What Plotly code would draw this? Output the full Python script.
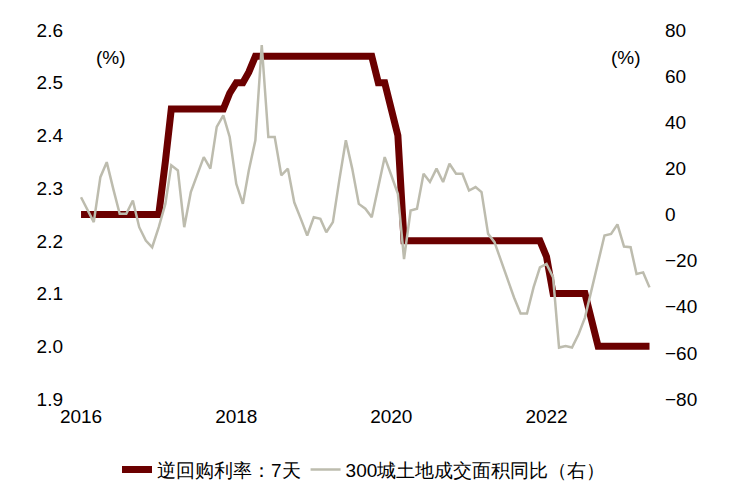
import pandas as pd
import plotly.graph_objects as go

months = pd.date_range("2016-01-01", periods=89, freq="MS")

# 逆回购利率：7天
repo_7d = ([2.25] * 13 + [2.35] + [2.45] * 9 + [2.48, 2.50, 2.50, 2.52] + [2.55] * 19
           + [2.50, 2.50, 2.45, 2.40] + [2.20] * 22 + [2.17, 2.10] + [2.10] * 5
           + [2.05] + [2.00] * 9)

# 300城土地成交面积同比（右）
land_yoy = [7.5, 2, -3.3, 16.2, 22.7, 11, 0.3, 0.3, 6.1, -5.5, -11.3, -14.2,
            -5.5, 4.6, 21.3, 19.1, -5.5, 9.7, 17, 24.9, 19.9, 38, 43, 33.6,
            13.3, 4.6, 19.1, 32.2, 73.5, 33.6, 33.6, 17, 19.9, 5.3, -1.9, -9.1,
            -1.2, -1.9, -7.7, -3.3, 14.8, 32.2, 19.9, 4.6, 2.5, -1.2, 12, 24.9,
            17, 9, -19.3, 1.7, 2.5, 17.7, 14.1, 19.9, 14.1, 22, 17.7, 17.7,
            10.4, 11.9, 9.7, -8.4, -12, -20, -28, -36, -42.9, -42.9, -31.6, -22.9,
            -21.4, -27.3, -57.7, -57, -57.7, -51.9, -44.7, -33, -20, -9.1, -8.4, -4.3,
            -13.9, -14.2, -25.8, -25.1, -31.6]

font = dict(family="Arial, Liberation Sans", size=19, color="black")

fig = go.Figure()
fig.add_trace(go.Scatter(x=months[:len(repo_7d)], y=repo_7d, name="逆回购利率：7天",
                         mode="lines", line=dict(color="#6B0000", width=7)))
fig.add_trace(go.Scatter(x=months[:len(land_yoy)], y=land_yoy, name="300城土地成交面积同比（右）",
                         mode="lines", line=dict(color="#BDBCAE", width=2.5), yaxis="y2"))

fig.update_layout(
    width=730, height=495, plot_bgcolor="white", paper_bgcolor="white",
    margin=dict(l=62, r=80, t=22, b=104),
    font=font,
    xaxis=dict(range=["2015-11-10", "2023-06-10"], tickvals=["2016-01-01", "2018-01-01", "2020-01-01", "2022-01-01"],
               ticktext=["2016", "2018", "2020", "2022"], showgrid=False, showline=False, zeroline=False,
               ticklabelstandoff=4),
    yaxis=dict(range=[1.9, 2.6], dtick=0.1, tickformat=".1f", showgrid=False, zeroline=False,
               ticklabelstandoff=6),
    yaxis2=dict(range=[-80, 80], dtick=20, overlaying="y", side="right", showgrid=False, zeroline=False,
                ticklabelstandoff=6),
    legend=dict(orientation="h", x=0.5, xanchor="center", y=-0.14, yanchor="top", font=font),
    annotations=[
        dict(text="(%)", xref="paper", yref="paper", x=0.04, y=0.96, showarrow=False, font=font),
        dict(text="(%)", xref="paper", yref="paper", x=0.975, y=0.96, showarrow=False, font=font),
    ],
)

fig.write_html("out.html")
